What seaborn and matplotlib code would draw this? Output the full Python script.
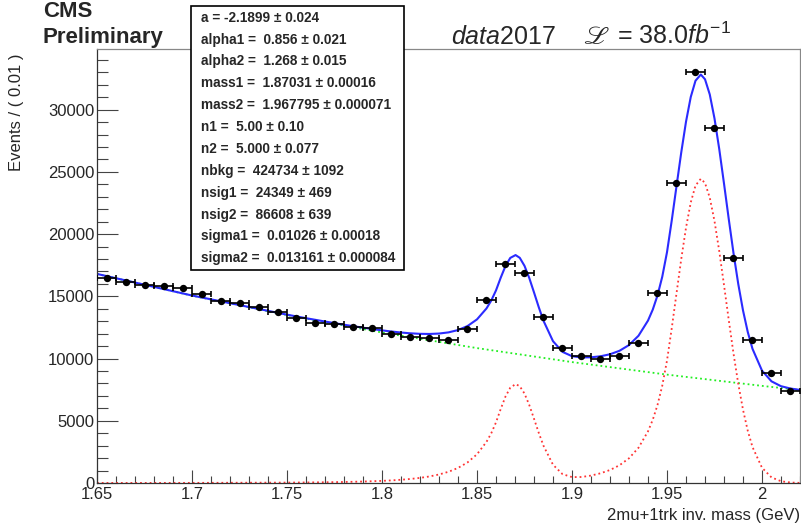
# RooFit-style mass fit plot: D+ / Ds -> 2mu + 1trk

import numpy as np
import pandas as pd
import matplotlib
matplotlib.use("Agg")
import matplotlib.pyplot as plt
import seaborn as sns
from matplotlib.ticker import MultipleLocator, FuncFormatter
from matplotlib.patches import Rectangle

sns.set_style("ticks")
plt.rcParams['font.family'] = ['Liberation Sans', 'DejaVu Sans']
plt.rcParams['mathtext.fontset'] = 'custom'
plt.rcParams['mathtext.rm'] = 'Liberation Sans'
plt.rcParams['mathtext.it'] = 'Liberation Sans:italic'
plt.rcParams['mathtext.bf'] = 'Liberation Sans:bold'
plt.rcParams['mathtext.fallback'] = 'stix'

# binned data (bin width 0.01 GeV)
bin_centers = [1.655, 1.665, 1.675, 1.685, 1.695, 1.705, 1.715, 1.725, 1.735, 1.745,
               1.755, 1.765, 1.775, 1.785, 1.795, 1.805, 1.815, 1.825, 1.835, 1.845,
               1.855, 1.865, 1.875, 1.885, 1.895, 1.905, 1.915, 1.925, 1.935, 1.945,
               1.955, 1.965, 1.975, 1.985, 1.995, 2.005, 2.015]
counts = [16510, 16140, 15930, 15820, 15660, 15180, 14610, 14450, 14160, 13750,
          13270, 12850, 12790, 12550, 12470, 11980, 11770, 11690, 11480, 12360,
          14720, 17640, 16890, 13330, 10860, 10190, 9950, 10190, 11280, 15230,
          24150, 33030, 28550, 18120, 11530, 8820, 7420]

# background component (green)
bkg_x = [1.65, 1.70, 1.75, 1.80, 1.85, 1.90, 1.95, 2.00, 2.02]
bkg_y = [16800, 15058, 13496, 12096, 10842, 9718, 8710, 7806, 7472]

# signal (red) and total fit (blue)
curve_x = [1.65, 1.70, 1.75, 1.76, 1.77, 1.78, 1.79, 1.80,
           1.805, 1.81, 1.815, 1.82, 1.825, 1.83, 1.835, 1.84, 1.845, 1.85, 1.855,
           1.8575, 1.86, 1.8625, 1.865, 1.8675, 1.8703, 1.8725, 1.875, 1.8775, 1.88, 1.8825, 1.885,
           1.89, 1.895, 1.90, 1.905, 1.91, 1.915, 1.92, 1.925, 1.93, 1.935,
           1.94, 1.9425, 1.945, 1.9475, 1.95, 1.9525, 1.955, 1.9575, 1.96, 1.9625, 1.965, 1.9678,
           1.97, 1.9725, 1.975, 1.9775, 1.98, 1.9825, 1.985, 1.9875, 1.99, 1.9925, 1.995,
           2.00, 2.005, 2.01, 2.015, 2.02]
sig_y = [4, 9.5, 32, 43, 59, 82, 117, 171,
         210, 260, 325, 411, 526, 684, 901, 1210, 1652, 2308, 3307,
         3997, 4872, 5956, 6952, 7654, 7949, 7778, 7189, 6270, 5167, 4034, 2994,
         1466, 713, 474, 481, 596, 780, 1045, 1426, 1986, 2833,
         4150, 5079, 6269, 7817, 9839, 12440, 15236, 18000, 20511, 22546, 23903, 24450,
         24111, 22940, 21051, 18635, 15911, 13104, 10408, 7976, 5894, 4202, 2889,
         1226, 450, 143, 39, 9]
total_y = [16804, 15068, 13528, 13246, 12977, 12720, 12481, 12267,
           12174, 12094, 12030, 11989, 11978, 12011, 12105, 12292, 12613, 13150, 14031,
           14663, 15479, 16506, 17444, 18089, 18319, 18099, 17453, 16479, 15320, 14132, 13036,
           11399, 10538, 10192, 10093, 10103, 10184, 10346, 10626, 11086, 11834,
           13053, 13933, 15075, 16575, 18549, 21102, 23851, 26568, 29033, 31021, 32332, 32827,
           32448, 31231, 29297, 26836, 24068, 21216, 18476, 16000, 13874, 12138, 10782,
           9032, 8171, 7780, 7593, 7481]

fit_lines = [
    "a = -2.1899 ± 0.024",
    "alpha1 =  0.856 ± 0.021",
    "alpha2 =  1.268 ± 0.015",
    "mass1 =  1.87031 ± 0.00016",
    "mass2 =  1.967795 ± 0.000071",
    "n1 =  5.00 ± 0.10",
    "n2 =  5.000 ± 0.077",
    "nbkg =  424734 ± 1092",
    "nsig1 =  24349 ± 469",
    "nsig2 =  86608 ± 639",
    "sigma1 =  0.01026 ± 0.00018",
    "sigma2 =  0.013161 ± 0.000084",
]

W, H = 801, 529
def px(x, y):
    return x / W, 1 - y / H

fig = plt.figure(figsize=(W / 100, H / 100), dpi=100)
ax = fig.add_axes([97 / W, 1 - 483 / H, 703 / W, 434 / H])

data = pd.DataFrame({"mass": bin_centers, "events": counts})

sns.lineplot(x=bkg_x, y=bkg_y, ax=ax, color='#22ee22', linestyle=':', linewidth=1.3,
             sort=False, estimator=None)
sns.lineplot(x=curve_x, y=sig_y, ax=ax, color='#ff3333', linestyle=':', linewidth=1.3,
             sort=False, estimator=None)
sns.lineplot(x=curve_x, y=total_y, ax=ax, color='#2b2bff', linewidth=1.5,
             sort=False, estimator=None)
ax.errorbar(data["mass"], data["events"], xerr=0.005, fmt='none', ecolor='black',
            elinewidth=1.2, capsize=2, capthick=1.2, zorder=5)
sns.scatterplot(data=data, x="mass", y="events", ax=ax, color='black', s=28,
                edgecolor='black', linewidth=0, zorder=6)

ax.set_xlim(1.65, 2.02)
ax.set_ylim(0, 34880)

ax.xaxis.set_major_locator(MultipleLocator(0.05))
ax.xaxis.set_minor_locator(MultipleLocator(0.01))
ax.xaxis.set_major_formatter(FuncFormatter(lambda v, p: f'{v:g}'))
ax.yaxis.set_major_locator(MultipleLocator(5000))
ax.yaxis.set_minor_locator(MultipleLocator(1000))
ax.yaxis.set_major_formatter(FuncFormatter(lambda v, p: f'{v:.0f}'))

ax.tick_params(axis='x', which='major', direction='in', length=9.4, width=0.8,
               labelsize=12, pad=3, color='#444444')
ax.tick_params(axis='x', which='minor', direction='in', length=4.8, width=0.8, color='#444444')
ax.tick_params(axis='y', which='major', direction='in', length=15, width=0.8,
               labelsize=12, pad=2, color='#444444')
ax.tick_params(axis='y', which='minor', direction='in', length=8, width=0.8, color='#444444')

for side in ['left', 'bottom']:
    ax.spines[side].set_color('#333333')
    ax.spines[side].set_linewidth(0.9)
for side in ['top', 'right']:
    ax.spines[side].set_color('#888888')
    ax.spines[side].set_linewidth(0.9)

ax.set_xlabel('2mu+1trk inv. mass (GeV)', fontsize=12, loc='right', labelpad=4)
ax.set_ylabel('Events / ( 0.01 )', fontsize=12, loc='top')
ax.yaxis.set_label_coords(-0.104, 0.99)

fig.text(*px(43, 17), 'CMS', fontsize=16, fontweight='bold', va='baseline')
fig.text(*px(43, 43), 'Preliminary', fontsize=16, fontweight='bold', va='baseline')
# luminosity label, script L drawn from STIX
fig.text(*px(451, 44), r'$\mathit{data}$2017', fontsize=18, va='baseline')
fig.text(*px(583, 44), 'ℒ', fontsize=19, va='baseline', family='STIXGeneral')
fig.text(*px(617, 44), r'= 38.0$\mathit{fb}^{-1}$', fontsize=18, va='baseline')

box = Rectangle(px(191, 270), 213 / W, 264 / H, transform=fig.transFigure,
                facecolor='white', edgecolor='black', linewidth=1.2)
fig.add_artist(box)
for i, line in enumerate(fit_lines):
    fig.text(*px(201, 21.7 + i * 21.87), line, fontsize=9.8, fontweight='bold',
             va='baseline', zorder=3)

fig.savefig('out.png', dpi=100)
